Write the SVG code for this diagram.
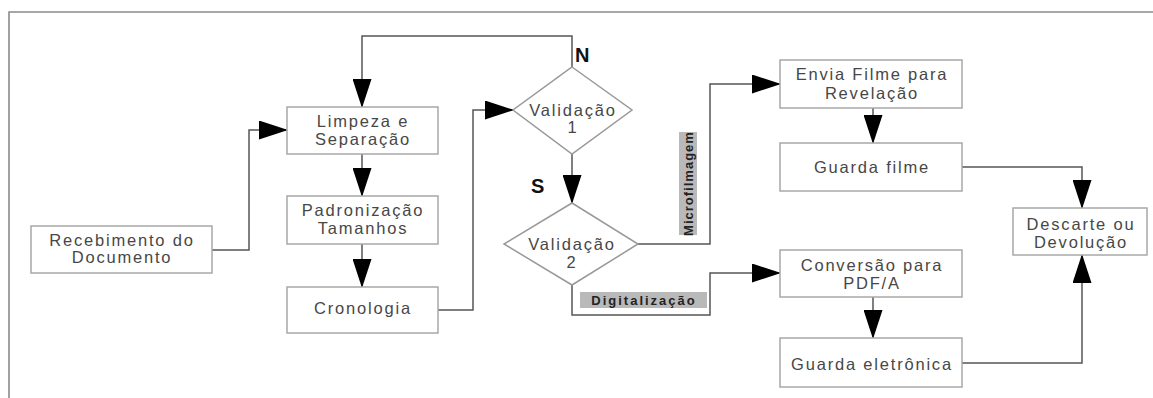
<svg xmlns="http://www.w3.org/2000/svg" width="1153" height="398" viewBox="0 0 1153 398">
<style>
.bg{fill:#fff}
.frame{fill:none;stroke:#8a8a8a;stroke-width:1.6}
.box{fill:#fff;stroke:#a8a8a8;stroke-width:1.5}
.dia{fill:#fff;stroke:#999;stroke-width:1.5}
.t{font-family:"Liberation Sans",Arial,sans-serif;font-size:16.5px;fill:#474747;letter-spacing:1.8px;text-anchor:middle}
.yn{font-family:"Liberation Sans",Arial,sans-serif;font-size:20px;font-weight:bold;fill:#111}
.lbl{fill:#b9b9b9}
.lt{font-family:"Liberation Sans",Arial,sans-serif;font-size:13px;font-weight:bold;fill:#222;text-anchor:middle}
.c{fill:none;stroke:#555;stroke-width:1.5;marker-end:url(#ah)}
</style>
<defs>
<marker id="ah" markerUnits="userSpaceOnUse" markerWidth="29" markerHeight="19" viewBox="0 0 29 19" refX="28" refY="9.5" orient="auto">
<path d="M0,0 L29,9.5 L0,19 z" fill="#000"/>
</marker>
</defs>
<rect class="bg" x="0" y="0" width="1153" height="398"/>
<path class="frame" d="M9,398 V12 H1153"/>

<g id="connectors">
<path class="c" d="M212,250 H249 V130 H287"/>
<path class="c" d="M572,67 V36 H362 V107"/>
<path class="c" d="M362,154 V196"/>
<path class="c" d="M362,244 V287"/>
<path class="c" d="M438,310 H473 V110 H513"/>
<path class="c" d="M572,154 V203"/>
<path class="c" d="M638,244 H710 V84 H780"/>
<path class="c" d="M572,285 V315 H710 V273 H780"/>
<path class="c" d="M873,108 V143"/>
<path class="c" d="M962,167 H1082 V208"/>
<path class="c" d="M873,297 V338"/>
<path class="c" d="M962,363 H1082 V255"/>
<rect class="lbl" x="580" y="292" width="127" height="16"/>
<text class="lt" x="644" y="305" style="letter-spacing:2px">Digitalização</text>
<rect class="lbl" x="679" y="132" width="18" height="103"/>
<text class="lt" transform="translate(692.5,183.5) rotate(-90)" style="letter-spacing:1px">Microfilmagem</text>
<text class="yn" x="575" y="62">N</text>
<text class="yn" x="531" y="193">S</text>
</g>

<g id="recebimento">
<rect class="box" x="31" y="226" width="181" height="47"/>
<text class="t" x="122" y="246">Recebimento do</text>
<text class="t" x="122" y="263">Documento</text>
</g>
<g id="limpeza">
<rect class="box" x="287" y="107" width="151" height="47"/>
<text class="t" x="363" y="127">Limpeza e</text>
<text class="t" x="363" y="145">Separação</text>
</g>
<g id="padronizacao">
<rect class="box" x="287" y="196" width="151" height="48"/>
<text class="t" x="363" y="216">Padronização</text>
<text class="t" x="363" y="234">Tamanhos</text>
</g>
<g id="cronologia">
<rect class="box" x="287" y="287" width="151" height="46"/>
<text class="t" x="363" y="314">Cronologia</text>
</g>
<g id="validacao1">
<polygon class="dia" points="572,67 632,110 572,154 513,110"/>
<text class="t" x="573" y="116">Validação</text>
<text class="t" x="573" y="133">1</text>
</g>
<g id="validacao2">
<polygon class="dia" points="572,203 638,244 572,285 504,244"/>
<text class="t" x="572" y="250">Validação</text>
<text class="t" x="572" y="268">2</text>
</g>
<g id="envia">
<rect class="box" x="780" y="60" width="182" height="48"/>
<text class="t" x="872" y="80">Envia Filme para</text>
<text class="t" x="872" y="99">Revelação</text>
</g>
<g id="guardafilme">
<rect class="box" x="780" y="143" width="182" height="48"/>
<text class="t" x="872" y="173">Guarda filme</text>
</g>
<g id="conversao">
<rect class="box" x="780" y="250" width="182" height="47"/>
<text class="t" x="872" y="271">Conversão para</text>
<text class="t" x="872" y="289">PDF/A</text>
</g>
<g id="guardaeletronica">
<rect class="box" x="780" y="338" width="182" height="49"/>
<text class="t" x="872" y="370">Guarda eletrônica</text>
</g>
<g id="descarte">
<rect class="box" x="1013" y="208" width="134" height="47"/>
<text class="t" x="1081" y="230">Descarte ou</text>
<text class="t" x="1081" y="248">Devolução</text>
</g>
</svg>
